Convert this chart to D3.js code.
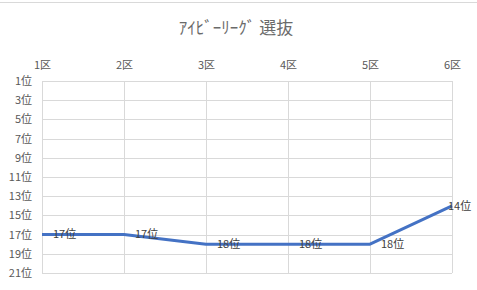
<!DOCTYPE html>
<html><head><meta charset="utf-8">
<script src="https://cdn.jsdelivr.net/npm/d3@7"></script>
<style>body{margin:0;background:#fff;} text{font-family:"Noto Sans CJK JP","Noto Sans",sans-serif;}</style>
</head><body><svg id="c" width="477" height="290"></svg>
<script>
const categories = ["1区","2区","3区","4区","5区","6区"];
const ranks = [17,17,18,18,18,14];
const yTicks = [1,3,5,7,9,11,13,15,17,19,21];
const title = "ｱｲﾋﾞｰﾘｰｸﾞ 選抜";

const svg = d3.select("#c");
const m = {left:42, right:452, top:81, bottom:273};
svg.append("line").attr("x1",0).attr("x2",477).attr("y1",2.5).attr("y2",2.5).attr("stroke","#d9d9d9").attr("stroke-width",1);

const x = d3.scalePoint().domain(categories).range([m.left, m.right]);
const y = d3.scaleLinear().domain([1,21]).range([m.top, m.bottom]);

// grid
svg.append("g").selectAll("line").data(yTicks).join("line")
  .attr("x1",m.left).attr("x2",m.right).attr("y1",d=>Math.round(y(d))+0.5).attr("y2",d=>Math.round(y(d))+0.5)
  .attr("stroke","#d9d9d9");
svg.append("g").selectAll("line").data(categories).join("line")
  .attr("y1",m.top).attr("y2",m.bottom).attr("x1",d=>Math.round(x(d))+0.5).attr("x2",d=>Math.round(x(d))+0.5)
  .attr("stroke","#d9d9d9");

// axes
const ya = svg.append("g").attr("transform",`translate(${m.left-10},0)`)
  .call(d3.axisLeft(y).tickValues(yTicks).tickSize(0).tickFormat(d=>d+"位"));
ya.select(".domain").remove();
ya.selectAll("text").attr("fill","#595959").style("font-size","11px").attr("x",0);

const xa = svg.append("g").attr("transform",`translate(0,${m.top-12})`)
  .call(d3.axisTop(x).tickSize(0));
xa.select(".domain").remove();
xa.selectAll("text").attr("fill","#595959").style("font-size","11px").attr("y",0);

// title
svg.append("text").attr("x",236).attr("y",34).attr("text-anchor","middle")
  .attr("fill","#6a6a6a").style("font-size","17px").text(title);

// line
const line = d3.line().x((d,i)=>x(categories[i])).y(d=>y(d));
svg.append("path").datum(ranks).attr("d",line).attr("fill","none")
  .attr("stroke","#4472C4").attr("stroke-width",3).attr("stroke-linejoin","round");

// labels
svg.append("g").selectAll("text").data(ranks).join("text")
  .attr("x",(d,i)=>Math.min(x(categories[i])+11, 448))
  .attr("y",d=>y(d)).attr("dy","0.35em")
  .attr("fill","#404040").style("font-size","11px").text(d=>d+"位");
</script></body></html>
